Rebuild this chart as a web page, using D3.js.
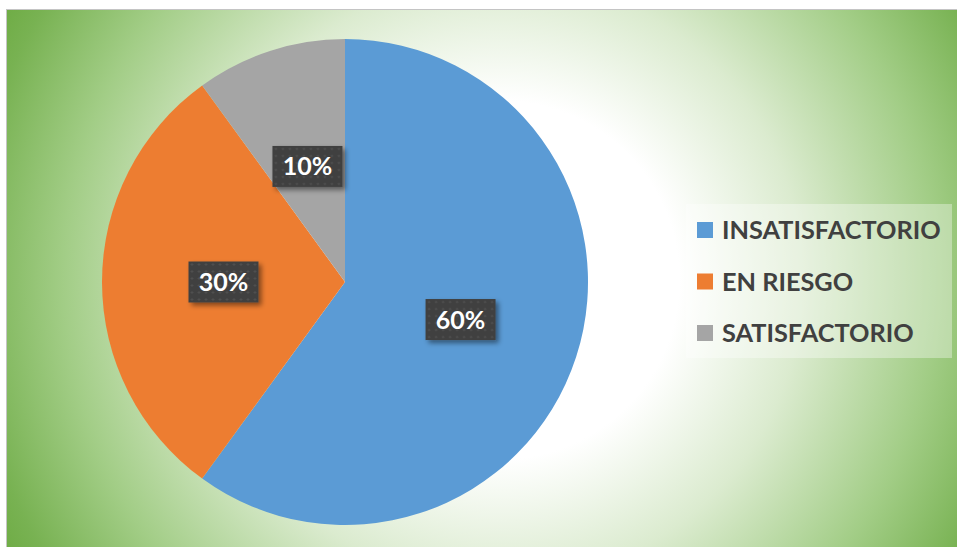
<!DOCTYPE html>
<html>
<head>
<meta charset="utf-8">
<script src="https://cdn.jsdelivr.net/npm/d3@7/dist/d3.min.js"></script>
<style>
  html, body { margin: 0; padding: 0; background: #ffffff; }
  svg { display: block; }
</style>
</head>
<body>
<svg id="chart" width="957" height="547"></svg>
<script>
// Category names, shares (percent) and slice colours
const categories = ["INSATISFACTORIO", "EN RIESGO", "SATISFACTORIO"];
const values = [60, 30, 10];
const colors = ["#5B9BD5", "#ED7D31", "#A5A5A5"];

const W = 957, H = 547;
const svg = d3.select("#chart");
const defs = svg.append("defs");

// Chart-area background: white centre fading out to green
const bg = defs.append("radialGradient")
  .attr("id", "bgGrad")
  .attr("gradientUnits", "userSpaceOnUse")
  .attr("cx", 500).attr("cy", 280).attr("r", 560);
[
  [0, "#ffffff"], [0.32, "#ffffff"], [0.54, "#dbebcf"],
  [0.78, "#a2cd86"], [0.95, "#78b252"], [1, "#70AD47"]
].forEach(([o, c]) => bg.append("stop").attr("offset", o).attr("stop-color", c));

// Dotted dark fill for the data-label boxes
const pat = defs.append("pattern")
  .attr("id", "dots")
  .attr("patternUnits", "userSpaceOnUse")
  .attr("width", 7).attr("height", 7);
pat.append("rect").attr("width", 7).attr("height", 7).attr("fill", "#404040");
pat.append("circle").attr("cx", 3.5).attr("cy", 3.5).attr("r", 1.1).attr("fill", "#555555");

// Soft shadow under the data labels
const sh = defs.append("filter").attr("id", "shadow")
  .attr("x", "-30%").attr("y", "-30%").attr("width", "160%").attr("height", "160%");
sh.append("feDropShadow")
  .attr("dx", 3).attr("dy", 3).attr("stdDeviation", 2.5)
  .attr("flood-color", "#000").attr("flood-opacity", 0.45);

// Chart area frame
svg.append("rect")
  .attr("x", 6.5).attr("y", 9.5)
  .attr("width", W + 20).attr("height", H + 20)
  .attr("fill", "url(#bgGrad)")
  .attr("stroke", "#c4c4c4").attr("stroke-width", 1);

// Pie, clockwise from twelve o'clock
const cx = 345, cy = 282, R = 243;
const pie = d3.pie().sort(null).value(d => d)
  .startAngle(0).endAngle(2 * Math.PI);
const arcs = pie(values);
const arc = d3.arc().innerRadius(0).outerRadius(R);

const g = svg.append("g").attr("transform", `translate(${cx},${cy})`);
g.selectAll("path.slice")
  .data(arcs)
  .join("path")
  .attr("class", "slice")
  .attr("d", arc)
  .attr("fill", (d, i) => colors[i]);

// Data labels in dark boxes at the slice centroids
const fmt = d => d3.format(".0%")(d / 100);
const lbl = g.selectAll("g.lbl")
  .data(arcs)
  .join("g")
  .attr("class", "lbl")
  .attr("transform", d => {
    const [x, y] = arc.centroid(d);
    return `translate(${x},${y})`;
  });
lbl.append("rect")
  .attr("x", -35).attr("y", -20.5)
  .attr("width", 70).attr("height", 41)
  .attr("fill", "url(#dots)")
  .attr("filter", "url(#shadow)");
lbl.append("text")
  .attr("text-anchor", "middle")
  .attr("dy", "0.36em")
  .attr("fill", "#ffffff")
  .attr("font-family", "Lato, 'Open Sans', sans-serif")
  .attr("font-weight", "bold")
  .attr("font-size", 25)
  .text(d => fmt(d.data));

// Legend
const legX = 686, legY = 204, legW = 266, legH = 154;
svg.append("rect")
  .attr("x", legX).attr("y", legY)
  .attr("width", legW).attr("height", legH)
  .attr("fill", "#ffffff").attr("fill-opacity", 0.35);

const rowY = d3.scalePoint().domain(categories).range([230, 333]);
const leg = svg.selectAll("g.leg")
  .data(categories)
  .join("g")
  .attr("class", "leg")
  .attr("transform", d => `translate(697,${rowY(d)})`);
leg.append("rect")
  .attr("x", 0).attr("y", -8)
  .attr("width", 16).attr("height", 16)
  .attr("fill", (d, i) => colors[i]);
leg.append("text")
  .attr("x", 25)
  .attr("dy", "0.36em")
  .attr("fill", "#404040")
  .attr("font-family", "Lato, 'Open Sans', sans-serif")
  .attr("font-weight", "bold")
  .attr("font-size", 25.3)
  .text(d => d);
</script>
</body>
</html>
